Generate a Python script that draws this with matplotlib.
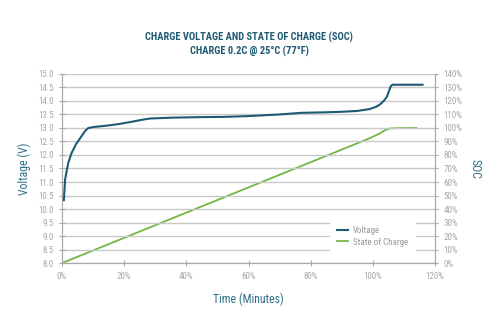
import matplotlib
matplotlib.use("Agg")
import matplotlib.pyplot as plt
from matplotlib.ticker import FuncFormatter
import numpy as np

plt.rcParams['font.family'] = ['Roboto Condensed', 'DejaVu Sans']
plt.rcParams['font.stretch'] = 'condensed'

# data
time_v = [0.6, 1.0, 2.0, 3.0, 4.5, 6.0, 7.5, 8.5, 10.5, 14, 18, 22, 25.6, 28.3, 35,
          44, 52, 60, 70, 77, 85, 90, 95, 99, 101, 102.3, 103.5, 104.5, 105.3,
          105.8, 106.3, 110, 116]
voltage = [10.33, 11.1, 11.7, 12.05, 12.4, 12.65, 12.9, 13.0, 13.04, 13.08, 13.14,
           13.22, 13.3, 13.35, 13.38, 13.4, 13.41, 13.44, 13.5, 13.56, 13.58, 13.6,
           13.63, 13.7, 13.78, 13.87, 14.0, 14.15, 14.4, 14.55, 14.6, 14.6, 14.6]

time_soc = [0, 99, 102.3, 104, 105.5, 108, 114]
soc = [0, 92.4, 96, 98.5, 99.6, 99.9, 100]

title = "CHARGE VOLTAGE AND STATE OF CHARGE (SOC)\nCHARGE 0.2C @ 25°C (77°F)"

teal = '#1d5a73'
label_col = '#2d6e88'
green = '#72b644'
grey = '#a8a8a8'
grid_col = '#c9c9c9'

fig = plt.figure(figsize=(5, 3.33), dpi=100)
ax = fig.add_axes([0.124, 0.21, 0.746, 0.568])
ax2 = ax.twinx()

ax.plot(time_v, voltage, color=teal, lw=1.5, label='Voltage', zorder=3)
ax2.plot(time_soc, soc, color=green, lw=1.3, label='State of Charge', zorder=3)

ax.set_xlim(0, 120)
ax.set_ylim(8, 15)
ax2.set_ylim(0, 140)
ax.set_xticks(np.arange(0, 121, 20))
ax.set_yticks(np.arange(8, 15.01, 0.5))
ax2.set_yticks(np.arange(0, 141, 10))
ax.xaxis.set_major_formatter(FuncFormatter(lambda v, p: f"{v:.0f}%"))
ax.yaxis.set_major_formatter(FuncFormatter(lambda v, p: f"{v:.1f}"))
ax2.yaxis.set_major_formatter(FuncFormatter(lambda v, p: f"{v:.0f}%"))

ax.grid(axis='y', color=grid_col, lw=1.0)
ax.set_axisbelow(True)

for a in (ax, ax2):
    for s in a.spines.values():
        s.set_color(grey)
        s.set_linewidth(0.8)
    a.spines['top'].set_visible(False)
    a.tick_params(colors=grey, labelsize=6.5, direction='inout', length=5, width=0.8)
ax.tick_params(axis='x', pad=4)

ax.set_xlabel('Time (Minutes)', color=label_col, fontsize=8.5, labelpad=8)
ax.set_ylabel('Voltage (V)', color=label_col, fontsize=8.5, labelpad=5)
ax2.set_ylabel('SOC', color=label_col, fontsize=8.5, rotation=270, labelpad=14)

fig.suptitle(title, color=teal, fontsize=7.5, fontweight='bold', x=0.498, y=0.905,
             linespacing=1.35)

h1, l1 = ax.get_legend_handles_labels()
h2, l2 = ax2.get_legend_handles_labels()
leg = ax.legend(h1 + h2, l1 + l2, loc='lower right', bbox_to_anchor=(0.96, 0.025),
                frameon=True, facecolor='white', edgecolor='none', framealpha=1,
                fontsize=6.5, handlelength=1.2, handletextpad=0.6,
                labelspacing=0.3, borderpad=0.8)
for t in leg.get_texts():
    t.set_color('#999999')
ax.set_zorder(ax2.get_zorder() + 1)
ax.patch.set_visible(False)

fig.savefig('out.png', dpi=100)
